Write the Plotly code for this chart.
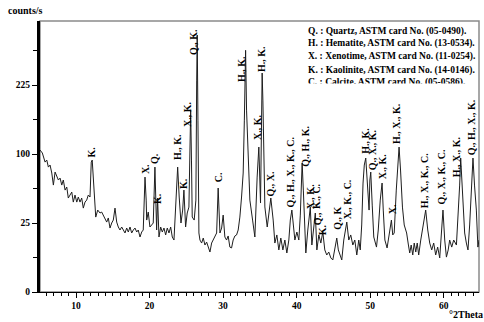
import numpy as np
import plotly.graph_objects as go

# ---- data: XRD pattern (2theta in degrees, intensity in counts/s) ----
two_theta = [5.1, 5.42, 5.79, 6.02, 6.24, 6.47, 6.70, 6.92, 7.15, 7.38, 7.60, 7.83, 8.06, 8.27, 8.51, 8.74, 8.95, 9.18,
             9.42, 9.63, 9.86, 10.10, 10.31, 10.54, 10.77, 10.99, 11.22, 11.45, 11.67, 11.90, 12.07, 12.20, 12.49, 12.68,
             12.95, 13.26, 13.49, 13.71, 13.94, 14.17, 14.39, 14.62, 14.85, 15.07, 15.30, 15.53, 15.75, 15.98, 16.21,
             16.43, 16.66, 16.89, 17.11, 17.34, 17.57, 17.79, 18.02, 18.25, 18.46, 18.70, 18.93, 19.14, 19.31, 19.38,
             19.54, 19.61, 19.82, 20.05, 20.28, 20.50, 20.73, 20.96, 21.09, 21.28, 21.51, 21.73, 21.96, 22.19, 22.41,
             22.64, 22.87, 23.09, 23.32, 23.55, 23.82, 24.03, 24.27, 24.50, 24.67, 24.90, 25.12, 25.35, 25.51, 25.59,
             25.70, 25.80, 26.07, 26.30, 26.41, 26.48, 26.58, 26.71, 26.85, 27.08, 27.30, 27.53, 27.76, 27.98, 28.21,
             28.44, 28.66, 28.89, 29.12, 29.33, 29.57, 29.80, 30.01, 30.24, 30.47, 30.69, 30.92, 31.15, 31.37, 31.60,
             31.83, 32.05, 32.28, 32.51, 32.73, 32.89, 33.06, 33.19, 33.33, 33.51, 33.64, 34.01, 34.32, 34.63, 34.86,
             35.09, 35.22, 35.31, 35.41, 35.54, 35.68, 36.00, 36.22, 36.49, 36.81, 37.04, 37.31, 37.58, 37.85, 38.13,
             38.40, 38.67, 38.94, 39.14, 39.35, 39.55, 39.76, 40.03, 40.30, 40.50, 40.75, 40.91, 41.11, 41.25, 41.52,
             41.86, 42.07, 42.34, 42.54, 42.75, 43.02, 43.29, 43.56, 43.83, 44.10, 44.37, 44.65, 44.92, 45.19, 45.46,
             45.67, 45.87, 46.14, 46.41, 46.62, 46.82, 47.09, 47.36, 47.64, 47.91, 48.18, 48.45, 48.65, 48.85, 49.03,
             49.20, 49.40, 49.60, 49.85, 49.96, 50.08, 50.28, 50.49, 50.86, 51.10, 51.37, 51.62, 51.78, 52.00, 52.30,
             52.60, 52.89, 53.07, 53.27, 53.55, 53.93, 54.13, 54.39, 54.63, 54.96, 55.20, 55.38, 55.58, 55.79, 55.99,
             56.20, 56.40, 56.60, 56.88, 57.15, 57.55, 57.83, 58.10, 58.37, 58.64, 58.91, 59.18, 59.46, 59.66, 59.90,
             60.14, 60.37, 60.61, 60.81, 61.09, 61.36, 61.73, 61.97, 62.17, 62.31, 62.51, 62.85, 63.08, 63.30, 63.53,
             63.78, 63.98, 64.19, 64.44, 64.65, 64.80]
counts = [106, 101.5, 88.7, 91.5, 82.0, 84.7, 74.4, 60.1, 75.6, 69.4, 65.9, 68.2, 60.1, 65.9, 54.6, 57.9, 46.4, 49.4,
          52.5, 42.5, 49.4, 42.5, 47.4, 42.5, 46.4, 37.0, 42.5, 44.4, 49.4, 47.4, 88.7, 91.5, 47.4, 29.5,
          35.3, 32.8, 33.6, 31.1, 28.8, 25.7, 28.8, 21.5, 25.0, 27.2, 37.0, 25.7, 22.2, 20.2, 22.2,
          20.2, 18.3, 21.5, 18.9, 22.2, 18.3, 20.2, 21.5, 18.9, 20.2, 15.9, 18.9, 20.2, 49.4, 69.4,
          44.4, 27.2, 33.6, 22.2, 23.6, 25.0, 82.0, 20.2, 46.4, 15.9, 22.2, 18.9, 21.5, 17.1, 21.5,
          18.3, 22.2, 15.9, 14.2, 35.3, 82.0, 47.4, 25.0, 35.3, 54.6, 22.2, 32.8, 37.9, 105.9, 174,
          91.5, 29.5, 27.2, 44.4, 236, 347, 155.3, 18.3, 14.2, 12.6, 15.3, 11.6, 13.1, 10.6, 8.4,
          12.6, 14.2, 15.9, 18.3, 56.8, 18.3, 21.5, 31.1, 15.9, 14.2, 16.5, 10.6, 10.2, 14.2, 16.5,
          17.1, 20.2, 29.5, 47.4, 74.4, 155.3, 307, 173.9, 126.2, 71.9, 44.4, 27.2, 15.9, 69.4, 110.4,
          41.6, 105.9, 252, 193.6, 78.2, 38.0, 22.2, 33.6, 46.4, 27.2, 12.6, 17.1, 9.3, 15.3, 9.3,
          14.2, 8.0, 14.2, 27.2, 35.3, 23.6, 14.2, 18.9, 14.2, 31.1, 87.4, 54.6, 17.1, 8.0, 20.2,
          37.9, 11.6, 25.7, 32.8, 9.3, 17.1, 12.6, 18.9, 9.3, 7.2, 8.4, 6.1, 5.4, 9.3, 15.3,
          9.3, 7.2, 5.4, 14.2, 18.9, 25.7, 14.2, 17.1, 11.6, 14.2, 7.2, 14.2, 9.3, 23.6, 62.4,
          84.7, 94.3, 65.9, 35.3, 65.9, 75.6, 39.7, 15.9, 10.6, 20.2, 44.4, 62.4, 35.3, 14.2, 10.2,
          17.1, 27.2, 17.1, 18.3, 54.6, 110.4, 78.2, 37.9, 23.6, 18.3, 11.6, 8.0, 11.6, 7.2, 12.6,
          8.4, 12.6, 7.2, 14.2, 21.5, 35.3, 20.2, 12.6, 9.3, 12.6, 7.2, 10.6, 6.1, 14.2, 35.3,
          14.2, 6.4, 9.3, 14.2, 10.6, 14.2, 11.6, 31.1, 60.1, 94.3, 60.1, 18.3, 12.6, 9.3, 23.6,
          60.1, 94.3, 60.1, 35.3, 10.6, 14.2]

# peak labels: position (2theta), base intensity (counts/s), text
label_pos = [12.17, 19.38, 20.67, 21.07, 23.72, 24.61, 25.08, 25.90, 29.33, 32.42, 35.14, 34.59, 36.45, 39.21,
             41.18, 41.86, 42.61, 42.88, 43.56, 45.53, 46.89, 49.27, 50.35, 51.64, 53.00, 53.57, 57.49, 59.69,
             61.77, 63.74]
label_base = [91.5, 69.4, 82.0, 37.9, 87.4, 52.5, 137.8, 287.5, 60.1, 225, 247.3, 116.6, 44.4, 35.3,
              78.2, 33.6, 33.6, 21.5, 15.3, 18.3, 25.7, 95.7, 74.4, 63.5, 29.5, 110.4, 34.5, 37.9,
              65.9, 94.3]
label_text = ["K.", "X.", "Q.", "K.", "H., K.", "K.", "X., K.", "Q., K.", "C.", "H., K.", "H., K.", "X., K.",
              "Q., X.", "Q., H., X., K., C.", "Q., H., K.", "X., K.", "K., C.", "Q.,", "K.", "Q., K",
              "X., K., C.", "H., K.", "Q., X., K.", "X., K.", "X.", "H., X., K.", "H., X., K., C.",
              "Q., X., K., C.", "H., X., K.", "Q., H., X., K."]

legend_lines = ["Q. : Quartz, ASTM card No. (05-0490).",
                "H. : Hematite, ASTM card No. (13-0534).",
                "X. : Xenotime, ASTM card No. (11-0254).",
                "K. : Kaolinite, ASTM card No. (14-0146).",
                "C. : Calcite, ASTM card No. (05-0586)."]

y_tick_vals = [0, 25, 100, 225]
y_minor_vals = [6.25, 56.25, 156.25, 306.25]

SERIF = "Liberation Serif, Times New Roman, serif"

# square-root intensity scale
sq = np.sqrt

fig = go.Figure()
fig.add_trace(go.Scatter(x=two_theta, y=sq(counts), mode="lines",
                         line=dict(color="#1e1e1e", width=1), hoverinfo="skip"))

ann = []
for p, b, t in zip(label_pos, label_base, label_text):
    ann.append(dict(x=p, y=sq(b), xref="x", yref="y", text=t, textangle=-90, showarrow=False,
                    xanchor="center", yanchor="bottom", yshift=1,
                    font=dict(family=SERIF, size=10, color="black", weight="bold")))

leg_y = [31, 44, 57, 70.5, 82.5]
for line, py in zip(legend_lines, leg_y):
    ann.append(dict(x=(306 - 40) / 439, y=(292 - py) / 271, xref="paper", yref="paper", text=line,
                    showarrow=False, xanchor="left", yanchor="middle",
                    font=dict(family=SERIF, size=9.5, color="black", weight="bold")))
# clip bottom part of last legend line (as in the original)
ann.append(dict(x=(300 - 40) / 439, y=(292 - 83) / 271, xref="paper", yref="paper", text=" ",
                showarrow=False, xanchor="left", yanchor="top", width=176, height=8,
                bgcolor="white", borderpad=0, font=dict(size=6)))

ann.append(dict(x=(6 - 40) / 439, y=(292 - 10) / 271, xref="paper", yref="paper", text="counts/s",
                showarrow=False, xanchor="left", yanchor="middle",
                font=dict(family=SERIF, size=10, color="black", weight="bold")))
ann.append(dict(x=(485 - 40) / 439, y=(292 - 314) / 271, xref="paper", yref="paper", text="°2Theta",
                showarrow=False, xanchor="right", yanchor="middle",
                font=dict(family=SERIF, size=10, color="black", weight="bold")))

fig.update_layout(
    width=484, height=322,
    margin=dict(l=40, r=5, t=21, b=30),
    paper_bgcolor="white", plot_bgcolor="white",
    showlegend=False,
    annotations=ann,
    shapes=[dict(type="rect", xref="paper", yref="paper", x0=0, y0=0, x1=1, y1=1,
                 line=dict(color="#8a8a8a", width=1.5), layer="below")],
    xaxis=dict(range=[5.1, 64.8], showgrid=False, zeroline=False, showline=True,
               linecolor="black", linewidth=1, ticks="outside", ticklen=5, tickcolor="black",
               tick0=10, dtick=10, tickfont=dict(family=SERIF, size=9.5, color="black", weight="bold"),
               minor=dict(dtick=1, tick0=0, ticks="outside", ticklen=3, tickcolor="black", showgrid=False)),
    yaxis=dict(range=[0, float(sq(386))], showgrid=False, zeroline=False, showline=True,
               linecolor="black", linewidth=3, ticks="outside", ticklen=5, tickcolor="black",
               tickmode="array", tickvals=list(sq(y_tick_vals)), ticktext=[str(v) for v in y_tick_vals],
               tickfont=dict(family=SERIF, size=9.5, color="black", weight="bold"),
               minor=dict(tickmode="array", tickvals=list(sq(y_minor_vals)), ticks="outside",
                          ticklen=4, tickcolor="black", showgrid=False)),
)

fig.write_html("out.html")
